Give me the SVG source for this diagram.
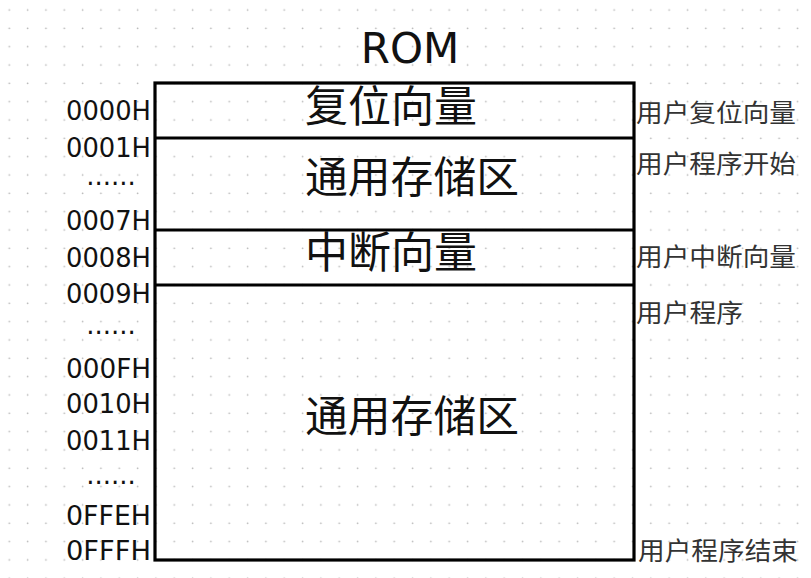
<svg xmlns="http://www.w3.org/2000/svg" width="811" height="578" viewBox="0 0 811 578">
<style>
.addr{font-family:"DejaVu Sans",sans-serif;font-size:26px;fill:#111;text-anchor:end}
.dots{font-family:"DejaVu Sans",sans-serif;font-size:26px;fill:#111;text-anchor:middle}
.big{font-family:"Noto Sans CJK SC",sans-serif;font-size:43px;fill:#111}
.note{font-family:"Noto Sans CJK SC",sans-serif;font-size:25px;fill:#333}
.title{font-family:"DejaVu Sans",sans-serif;font-size:42px;fill:#111;text-anchor:middle}
.frame{fill:none;stroke:#000;stroke-width:3.2}
</style>
<defs>
<pattern id="grid" x="0" y="0" width="18.33" height="18.33" patternUnits="userSpaceOnUse">
<circle cx="9.3" cy="10" r="0.9" fill="#b8b8b8"/>
</pattern>
</defs>
<rect width="811" height="578" fill="#fff"/>
<rect width="811" height="578" fill="url(#grid)"/>
<text class="title" x="410" y="63">ROM</text>
<g id="rom">
<rect class="frame" x="155" y="83" width="479" height="477"/>
</g>
<g id="connectors">
<line class="frame" x1="155" y1="138" x2="634" y2="138"/>
<line class="frame" x1="155" y1="230" x2="634" y2="230"/>
<line class="frame" x1="155" y1="285" x2="634" y2="285"/>
</g>
<g id="reset"><text class="big" x="305" y="122" textLength="172" lengthAdjust="spacingAndGlyphs">复位向量</text></g>
<g id="general1"><text class="big" x="305" y="193" textLength="214" lengthAdjust="spacingAndGlyphs">通用存储区</text></g>
<g id="interrupt"><text class="big" x="305" y="268" textLength="172" lengthAdjust="spacingAndGlyphs">中断向量</text></g>
<g id="general2"><text class="big" x="305" y="432" textLength="214" lengthAdjust="spacingAndGlyphs">通用存储区</text></g>
<g id="addresses">
<text class="addr" x="151" y="120" textLength="85" lengthAdjust="spacingAndGlyphs">0000H</text>
<text class="addr" x="151" y="157" textLength="85" lengthAdjust="spacingAndGlyphs">0001H</text>
<text class="dots" x="111" y="185">......</text>
<text class="addr" x="151" y="230" textLength="85" lengthAdjust="spacingAndGlyphs">0007H</text>
<text class="addr" x="151" y="267" textLength="85" lengthAdjust="spacingAndGlyphs">0008H</text>
<text class="addr" x="151" y="303" textLength="85" lengthAdjust="spacingAndGlyphs">0009H</text>
<text class="dots" x="111" y="334">......</text>
<text class="addr" x="151" y="378" textLength="85" lengthAdjust="spacingAndGlyphs">000FH</text>
<text class="addr" x="151" y="413" textLength="85" lengthAdjust="spacingAndGlyphs">0010H</text>
<text class="addr" x="151" y="450" textLength="85" lengthAdjust="spacingAndGlyphs">0011H</text>
<text class="dots" x="111" y="484">......</text>
<text class="addr" x="151" y="525" textLength="85" lengthAdjust="spacingAndGlyphs">0FFEH</text>
<text class="addr" x="151" y="560" textLength="85" lengthAdjust="spacingAndGlyphs">0FFFH</text>
</g>
<g id="notes">
<text class="note" x="636" y="122" textLength="160" lengthAdjust="spacingAndGlyphs">用户复位向量</text>
<text class="note" x="636" y="173" textLength="160" lengthAdjust="spacingAndGlyphs">用户程序开始</text>
<text class="note" x="636" y="266" textLength="160" lengthAdjust="spacingAndGlyphs">用户中断向量</text>
<text class="note" x="636" y="322" textLength="107" lengthAdjust="spacingAndGlyphs">用户程序</text>
<text class="note" x="638" y="560" textLength="160" lengthAdjust="spacingAndGlyphs">用户程序结束</text>
</g>
</svg>
